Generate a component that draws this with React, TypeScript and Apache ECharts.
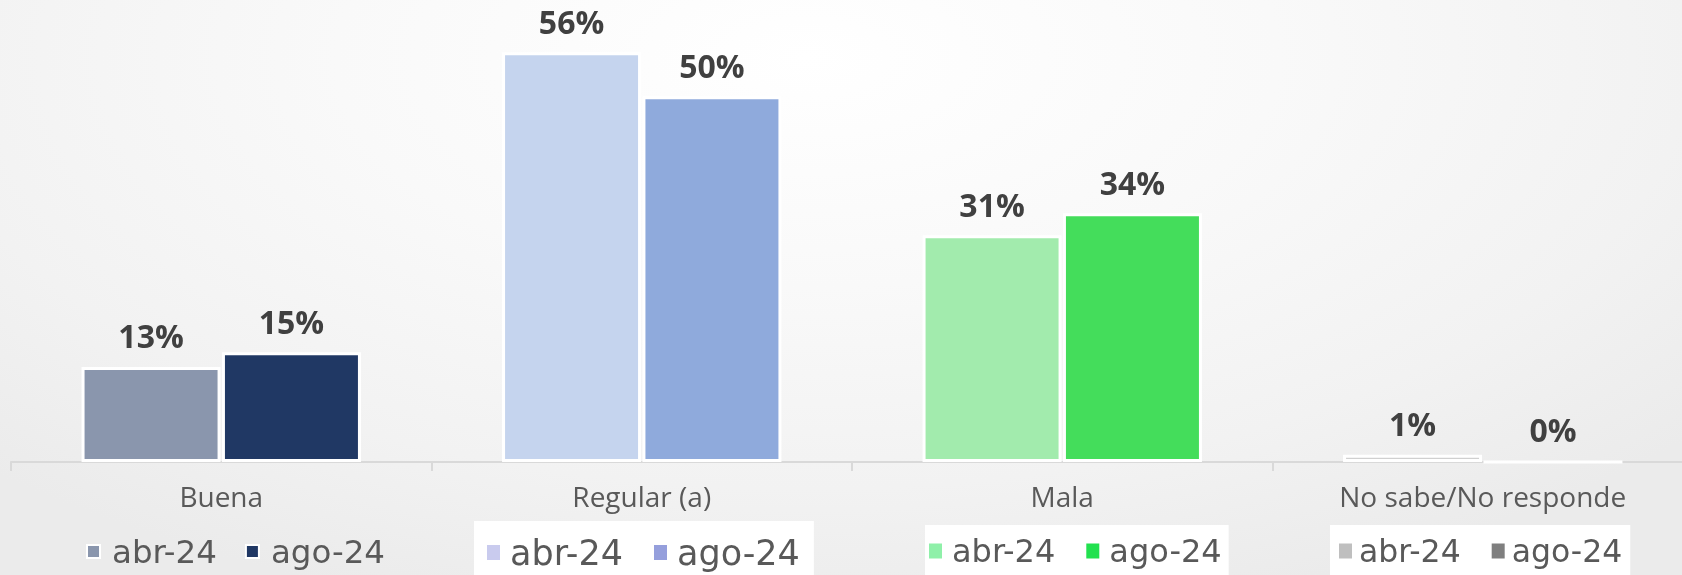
import React, { useEffect, useRef } from "react";
import * as echarts from "echarts";

const categories = ["Buena", "Regular (a)", "Mala", "No sabe/No responde"];
const seriesNames = ["abr-24", "ago-24"];
const abr24 = [13, 56, 31, 1];
const ago24 = [15, 50, 34, 0];
const abrBarColors = ["#8a96ad", "#c5d4ee", "#a2ebad", "#d0d0d0"];
const agoBarColors = ["#203864", "#8faadc", "#44dd5b", "#7f7f7f"];
const abrLegendColors = ["#8a96ad", "#c9cbee", "#8ff0a9", "#bfbfbf"];
const agoLegendColors = ["#203864", "#959fdc", "#22e14f", "#7f7f7f"];

export default function App() {
  const ref = useRef<HTMLDivElement>(null);
  useEffect(() => {
    if (!ref.current) return;
    const chart = echarts.init(ref.current, null, { renderer: "svg" });

    const legendLayouts = [
      { left: 86, top: 535, fontSize: 32.5, bg: "transparent", padding: 0, itemGap: 28, border: true, textPad: 7 },
      { left: 474, top: 521, fontSize: 35, bg: "#ffffff", padding: [14, 14, 20, 13], itemGap: 31, border: false, textPad: 5 },
      { left: 925, top: 525, fontSize: 32, bg: "#ffffff", padding: [10, 7, 20, 4], itemGap: 31, border: false, textPad: 5 },
      { left: 1330, top: 525, fontSize: 31.5, bg: "#ffffff", padding: [10, 8, 20, 9], itemGap: 31, border: false, textPad: 2 },
    ];

    const legends = legendLayouts.map((l, i) => ({
      left: l.left,
      top: l.top,
      orient: "horizontal",
      backgroundColor: l.bg,
      padding: l.padding,
      itemGap: l.itemGap,
      itemWidth: 13,
      itemHeight: l.border ? 13 : 15,
      icon: "rect",
      selectedMode: false,
      textStyle: {
        fontFamily: "DejaVu Sans",
        fontSize: l.fontSize,
        color: "#595959",
        padding: [0, 0, 0, l.textPad],
      },
      data: [
        {
          name: seriesNames[0],
          itemStyle: {
            color: abrLegendColors[i],
            borderColor: "#ffffff",
            borderWidth: l.border ? 2 : 0,
          },
        },
        {
          name: seriesNames[1],
          itemStyle: {
            color: agoLegendColors[i],
            borderColor: "#ffffff",
            borderWidth: l.border ? 2 : 0,
          },
        },
      ],
    }));

    const makeSeries = (name: string, values: number[], colors: string[]) => ({
      name,
      type: "bar",
      barWidth: 139,
      barGap: "1%",
      itemStyle: { borderColor: "#ffffff", borderWidth: 3, color: colors[0] },
      label: {
        show: true,
        position: "top",
        distance: 15,
        formatter: "{c}%",
        fontFamily: "Open Sans",
        fontWeight: "bold",
        fontSize: 32,
        color: "#404040",
      },
      data: values.map((v, i) => ({
        value: v,
        itemStyle: { color: colors[i] },
      })),
    });

    chart.setOption({
      animation: false,
      backgroundColor: "transparent",
      grid: { left: 11, right: 7, top: 23, bottom: 113, containLabel: false },
      legend: legends,
      xAxis: {
        type: "category",
        data: categories,
        axisLine: { show: true, lineStyle: { color: "#d9d9d9", width: 2 } },
        axisTick: { show: true, length: 9, lineStyle: { color: "#d9d9d9", width: 2 } },
        axisLabel: {
          fontFamily: "Open Sans",
          fontSize: 28,
          color: "#595959",
          margin: 20,
          interval: 0,
        },
      },
      yAxis: { type: "value", min: 0, max: 60, show: false, splitLine: { show: false } },
      series: [
        makeSeries(seriesNames[0], abr24, abrBarColors),
        makeSeries(seriesNames[1], ago24, agoBarColors),
      ],
    });
    return () => chart.dispose();
  }, []);

  return (
    <div
      style={{
        position: "fixed",
        left: 0,
        top: 0,
        width: 1682,
        height: 575,
        overflow: "hidden",
        background:
          "radial-gradient(ellipse 70% 100% at 48% 10%, #ffffff 0%, #f9f9f9 40%, #f2f2f2 75%, #ebebeb 100%)",
      }}
    >
      <div ref={ref} style={{ width: 1700, height: 575 }} />
    </div>
  );
}
